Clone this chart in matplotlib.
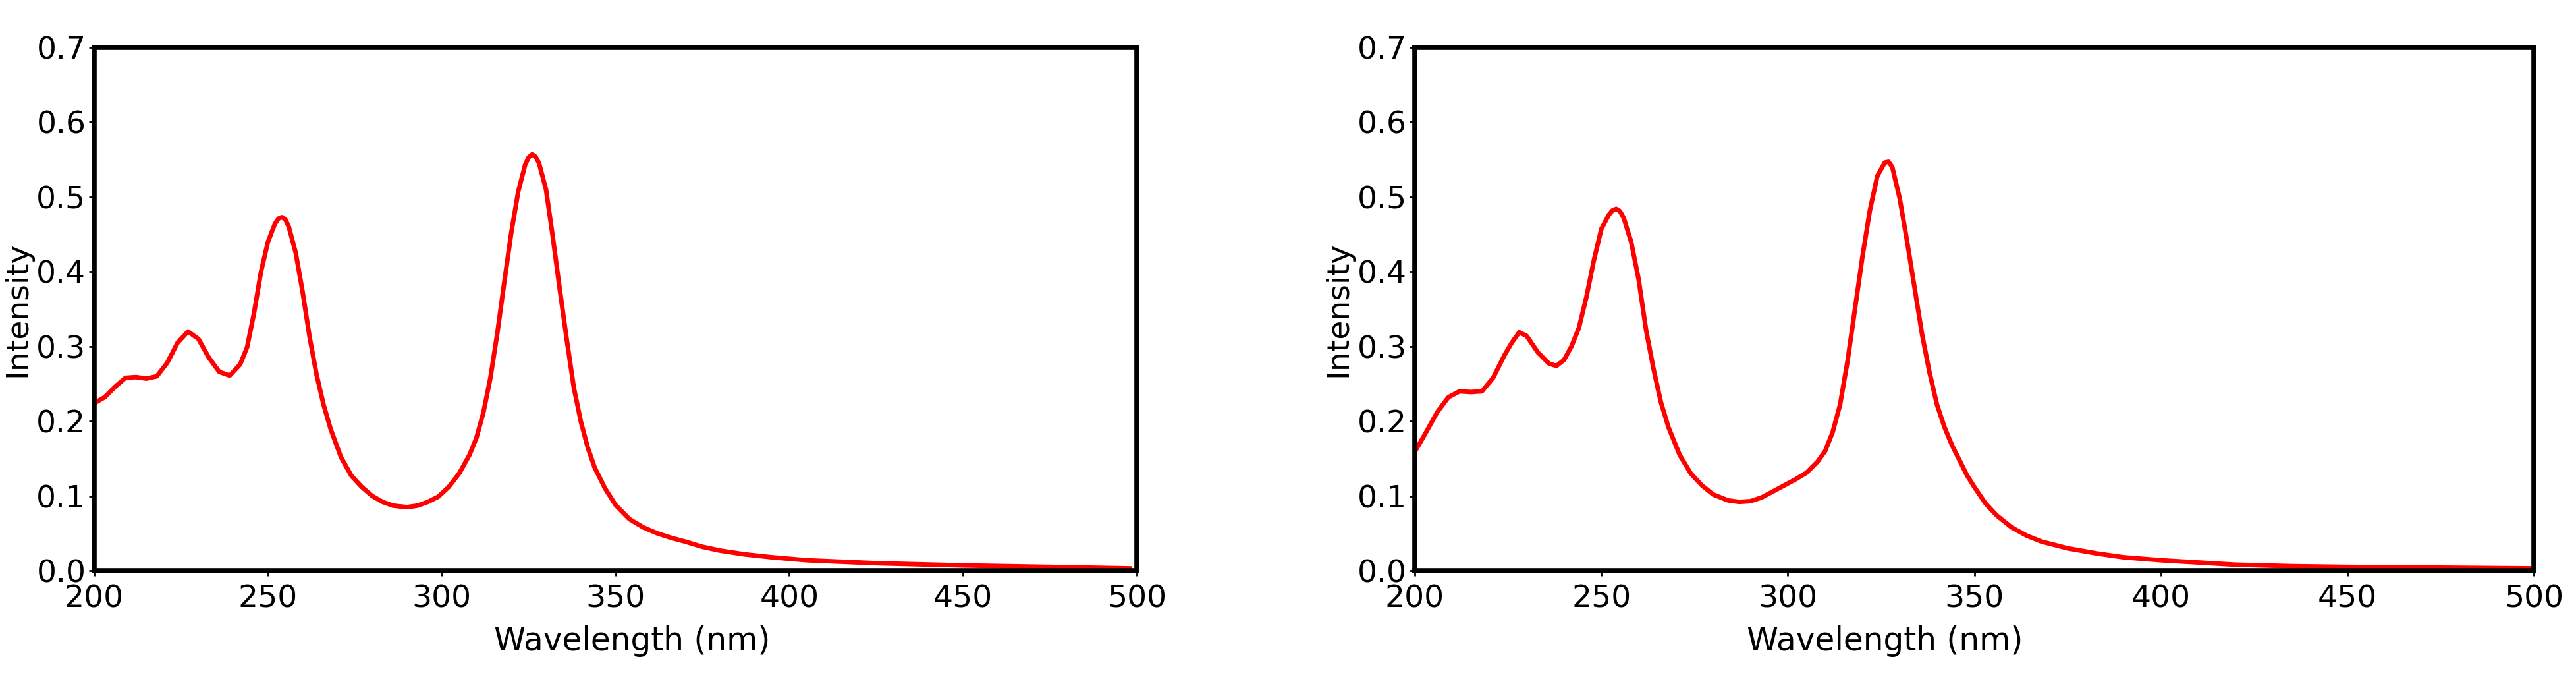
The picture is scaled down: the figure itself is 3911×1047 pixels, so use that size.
import matplotlib
matplotlib.use("Agg")
import matplotlib.pyplot as plt

# left spectrum (wavelength in nm, intensity)
wl_left = [200, 203, 206, 209, 212, 215, 218, 221, 224, 227, 230, 233, 236, 239,
           242, 244, 246, 248, 250, 252, 253, 254, 255, 256, 258, 260, 262, 264,
           266, 268, 271, 274, 277, 280, 283, 286, 290, 293, 296, 299, 302, 305,
           308, 310, 312, 314, 316, 318, 320, 322, 324, 325, 326, 327, 328, 330,
           332, 334, 336, 338, 340, 342, 344, 347, 350, 354, 358, 362, 366, 370,
           375, 380, 387, 395, 405, 425, 450, 475, 498]
int_left = [0.224, 0.232, 0.246, 0.258, 0.259, 0.257, 0.260, 0.278, 0.305, 0.320,
            0.310, 0.285, 0.266, 0.261, 0.276, 0.299, 0.345, 0.400, 0.440, 0.464,
            0.471, 0.473, 0.470, 0.460, 0.425, 0.372, 0.312, 0.262, 0.222, 0.190,
            0.152, 0.127, 0.112, 0.100, 0.092, 0.087, 0.085, 0.087, 0.092, 0.099,
            0.112, 0.130, 0.155, 0.178, 0.212, 0.258, 0.318, 0.386, 0.452, 0.507,
            0.543, 0.553, 0.557, 0.554, 0.545, 0.510, 0.445, 0.375, 0.308, 0.245,
            0.200, 0.165, 0.138, 0.110, 0.088, 0.069, 0.058, 0.050, 0.044, 0.039,
            0.032, 0.027, 0.022, 0.018, 0.014, 0.010, 0.007, 0.005, 0.003]

# right spectrum
wl_right = [200, 203, 206, 209, 212, 215, 218, 221, 224, 226, 228, 230, 233, 236,
            238, 240, 242, 244, 246, 248, 250, 252, 253, 254, 255, 256, 258, 260,
            262, 264, 266, 268, 271, 274, 277, 280, 284, 287, 290, 293, 296, 299,
            302, 305, 308, 310, 312, 314, 316, 318, 320, 322, 324, 326, 327, 328,
            330, 332, 334, 336, 338, 340, 342, 344, 346, 348, 350, 353, 356, 360,
            364, 368, 375, 383, 390, 400, 410, 420, 435, 450, 475, 500]
int_right = [0.159, 0.185, 0.212, 0.232, 0.240, 0.239, 0.240, 0.258, 0.288, 0.305,
             0.319, 0.314, 0.292, 0.277, 0.274, 0.282, 0.300, 0.325, 0.366, 0.415,
             0.457, 0.476, 0.482, 0.484, 0.481, 0.472, 0.440, 0.390, 0.322, 0.270,
             0.225, 0.192, 0.155, 0.130, 0.114, 0.102, 0.094, 0.092, 0.093, 0.098,
             0.106, 0.114, 0.122, 0.131, 0.146, 0.160, 0.185, 0.222, 0.280, 0.350,
             0.420, 0.482, 0.528, 0.546, 0.547, 0.540, 0.498, 0.440, 0.378, 0.316,
             0.265, 0.222, 0.192, 0.168, 0.148, 0.128, 0.112, 0.090, 0.074, 0.058,
             0.047, 0.039, 0.030, 0.023, 0.018, 0.014, 0.011, 0.008, 0.006, 0.005,
             0.004, 0.003]

x_ticks = [200, 250, 300, 350, 400, 450, 500]
y_ticks = [0.0, 0.1, 0.2, 0.3, 0.4, 0.5, 0.6, 0.7]

plt.rcParams['font.family'] = ['DejaVu Sans']

fig = plt.figure(figsize=(39.11, 10.47), dpi=100)
ax1 = fig.add_axes([143 / 3911, 181 / 1047, 1583 / 3911, 794 / 1047])
ax2 = fig.add_axes([2148 / 3911, 181 / 1047, 1699 / 3911, 794 / 1047])

# x-label centres (axes fraction)
xlabel_x = [0.516, 0.42]

for ax, wl, inten, lx in [(ax1, wl_left, int_left, xlabel_x[0]),
                          (ax2, wl_right, int_right, xlabel_x[1])]:
    ax.plot(wl, inten, color='red', linewidth=5)
    ax.set_xlim(200, 500)
    ax.set_ylim(0, 0.7)
    ax.set_xticks(x_ticks)
    ax.set_yticks(y_ticks)
    ax.set_yticklabels([f"{v:.1f}" for v in y_ticks])
    ax.tick_params(labelsize=34, length=6, width=2, pad=3)
    ax.tick_params(axis='x', pad=9)
    for s in ax.spines.values():
        s.set_linewidth(5.5)
    ax.set_xlabel("Wavelength (nm)", fontsize=35)
    ax.xaxis.set_label_coords(lx, -0.105)
    ax.set_ylabel("Intensity", fontsize=34, labelpad=4)

fig.savefig("out.png", dpi=100)
